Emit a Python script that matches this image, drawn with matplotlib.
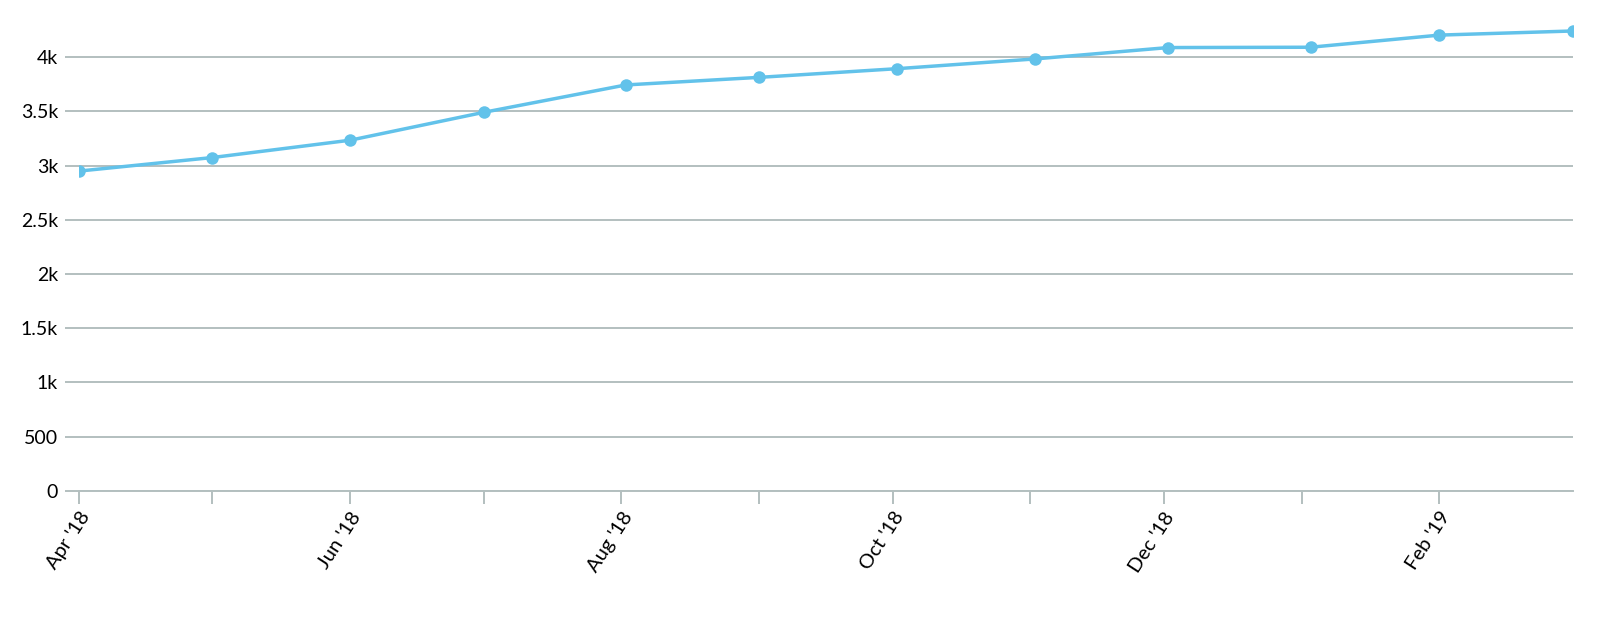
import matplotlib
matplotlib.use("Agg")
import matplotlib.pyplot as plt
from matplotlib.ticker import FuncFormatter
import datetime as dt

plt.rcParams['font.family'] = ['Lato', 'DejaVu Sans']

# data
dates = [dt.date(2018, 4, 1), dt.date(2018, 5, 1), dt.date(2018, 6, 1), dt.date(2018, 7, 1),
         dt.date(2018, 8, 2), dt.date(2018, 9, 1), dt.date(2018, 10, 2), dt.date(2018, 11, 2),
         dt.date(2018, 12, 2), dt.date(2019, 1, 3), dt.date(2019, 2, 1), dt.date(2019, 3, 3)]
values = [2950, 3075, 3235, 3492, 3745, 3815, 3895, 3985, 4090, 4093, 4205, 4243]

tick_months = [dt.date(2018, m, 1) for m in range(4, 13)] + [dt.date(2019, 1, 1), dt.date(2019, 2, 1)]
tick_labels = ["Apr '18", "", "Jun '18", "", "Aug '18", "", "Oct '18", "", "Dec '18", "", "Feb '19"]
y_ticks = [0, 500, 1000, 1500, 2000, 2500, 3000, 3500, 4000]

grid_col = '#b3bfbf'
line_col = '#62c2ea'

fig = plt.figure(figsize=(16, 6.21), dpi=100)
ax = fig.add_axes([0.0494, 0.2098, 0.9336, 0.7677])

ax.plot(dates, values, color=line_col, linewidth=2.5, marker='o', markersize=9,
        markeredgewidth=0, solid_capstyle='round', zorder=3)

ax.set_xlim(dates[0], dates[-1])
ax.set_ylim(0, 4400)

ax.set_yticks(y_ticks)
ax.yaxis.set_major_formatter(FuncFormatter(
    lambda v, p: '0' if v == 0 else (f'{v/1000:g}k' if v >= 1000 else f'{v:g}')))
ax.grid(axis='y', color=grid_col, linewidth=1.4, zorder=1)

ax.set_xticks(tick_months)
ax.set_xticklabels(tick_labels, rotation=57, ha='right', va='top', rotation_mode='anchor')

for s in ['top', 'right', 'left']:
    ax.spines[s].set_visible(False)
ax.spines['bottom'].set_color(grid_col)
ax.spines['bottom'].set_linewidth(1.4)

ax.tick_params(axis='y', length=10, width=1.4, color=grid_col, labelsize=14, pad=5)
ax.tick_params(axis='x', length=9, width=1.4, color=grid_col, labelsize=14.5, pad=4)

fig.savefig('out.png', dpi=100, facecolor='white')
